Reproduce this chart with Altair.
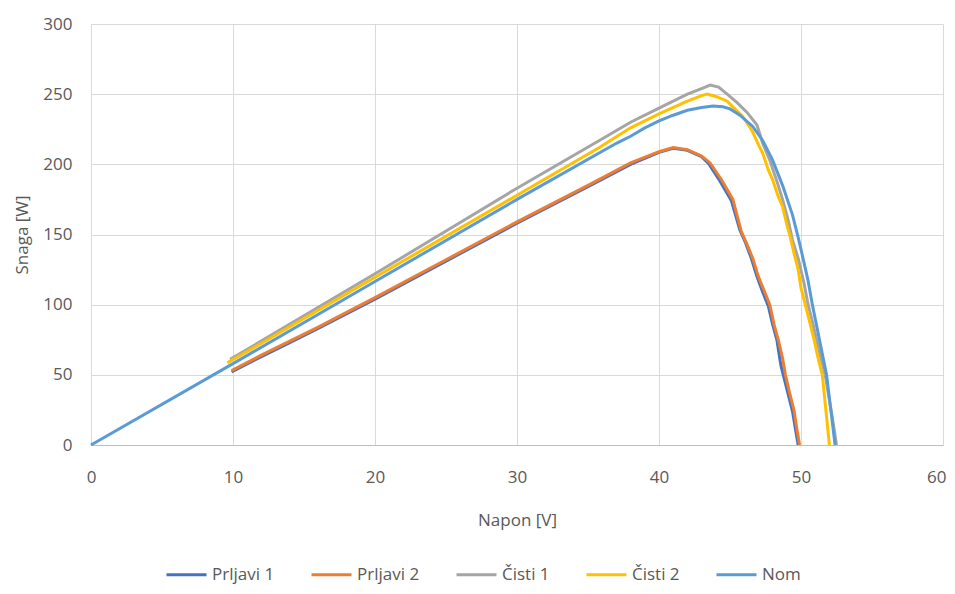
import altair as alt
import pandas as pd

series_names = ["Prljavi 1", "Prljavi 2", "Čisti 1", "Čisti 2", "Nom"]
series_colors = ["#4472C4", "#ED7D31", "#A5A5A5", "#FFC000", "#5B9BD5"]

prljavi1_v = [9.9, 12, 14, 16, 20, 25, 30, 35, 38, 40, 41, 42, 43, 43.5, 44.3, 45.1, 45.7, 46.1, 46.5, 46.9, 47.3, 47.7, 48.0, 48.3, 48.5, 48.6, 48.8, 49.1, 49.4, 49.6, 49.8]
prljavi1_w = [52, 63, 73, 83, 104, 131, 158, 184, 200, 208.5, 211.5, 210, 205.5, 200.5, 188, 174, 153, 144, 133, 120, 109, 99, 86, 75, 62, 56, 48, 36, 24, 12, 0]

prljavi2_v = [9.9, 12, 14, 16, 20, 25, 30, 35, 38, 40, 41, 42, 43, 43.6, 44.4, 45.2, 45.8, 46.2, 46.6, 47.0, 47.4, 47.8, 48.1, 48.4, 48.7, 48.9, 49.2, 49.5, 49.7, 49.9]
prljavi2_w = [53, 64, 74, 84, 105, 132, 159, 185, 201, 209, 212, 210.5, 206, 201, 189, 175, 152, 143, 133, 120, 110, 100, 86, 75, 62, 50, 37, 25, 12, 0]

cisti1_v = [9.8, 20, 30, 35.8, 38, 40, 42, 43, 43.6, 44.2, 44.8, 45.5, 46.2, 46.9, 47.3, 47.8, 48.3, 48.7, 49.1, 49.4, 49.8, 50.2, 50.5, 50.8, 51.1, 51.4, 51.7, 51.95, 52.2, 52.5]
cisti1_w = [61, 122, 183, 217, 230, 240, 250, 254, 256.5, 255, 250, 244, 237, 228, 215, 203, 188, 175, 160, 146, 133, 116, 100, 88, 75, 62, 50, 35, 20, 0]

cisti2_v = [9.6, 20, 30, 35.8, 38, 40, 42, 43, 43.4, 44.1, 44.8, 45.4, 45.9, 46.3, 46.6, 47.0, 47.3, 47.7, 48.0, 48.4, 48.7, 49.0, 49.2, 49.5, 49.8, 50.0, 50.3, 50.6, 50.9, 51.2, 51.5, 51.75, 52.0]
cisti2_w = [58.5, 119.5, 178, 212, 226, 236, 245, 249, 250, 248, 245, 239, 234, 228, 223, 214, 208, 196, 189, 177, 170, 157, 150, 137, 125, 112, 100, 88, 76, 62, 50, 25, 0]

nom_v = [0, 10, 20, 30, 37, 38, 39, 40, 41, 42, 43, 43.8, 44.5, 45, 45.7, 46.6, 47.3, 48, 48.7, 49.4, 49.8, 50.1, 50.5, 50.8, 51.3, 51.8, 52.1, 52.4]
nom_w = [0, 58, 116.5, 175, 215, 220, 226, 231, 235, 238.5, 240.5, 241.5, 241, 239.5, 235, 227, 217, 203, 185, 164, 148, 135, 117, 100, 75, 50, 25, 0]

x_ticks = [0, 10, 20, 30, 40, 50, 60]
y_ticks = [0, 50, 100, 150, 200, 250, 300]

rows = []
for name, vs, ws in zip(series_names,
                        [prljavi1_v, prljavi2_v, cisti1_v, cisti2_v, nom_v],
                        [prljavi1_w, prljavi2_w, cisti1_w, cisti2_w, nom_w]):
    for i, (v, w) in enumerate(zip(vs, ws)):
        rows.append({"series": name, "V": v, "W": w, "idx": i})
df = pd.DataFrame(rows)

FONT = "Open Sans"
GREY_TXT = "#595959"

color = alt.Color(
    "series:N",
    scale=alt.Scale(domain=series_names, range=series_colors),
    legend=alt.Legend(
        title=None, orient="none", direction="horizontal",
        legendX=74, legendY=529,
        symbolType="stroke", symbolSize=1600, symbolStrokeWidth=3,
        labelFontSize=17, labelColor=GREY_TXT, labelFont=FONT,
        columnPadding=30, labelOffset=4,
    ),
)

base = alt.Chart(df).mark_line(strokeWidth=3).encode(
    x=alt.X("V:Q", scale=alt.Scale(domain=[0, 60]),
            axis=alt.Axis(values=x_ticks, title="Napon [V]", grid=True,
                          ticks=False, domain=True, domainColor="#BFBFBF",
                          labelFlush=False,
                          labelAlign=alt.ExprRef(expr="datum.value == 60 ? 'right' : 'center'"),
                          labelOffset=alt.ExprRef(expr="datum.value == 60 ? 3 : 0"),
                          labelPadding=24, titlePadding=27)),
    y=alt.Y("W:Q", scale=alt.Scale(domain=[0, 300]),
            axis=alt.Axis(values=y_ticks, title="Snaga [W]", grid=True,
                          ticks=False, domain=False, labelFlush=False,
                          labelPadding=19, titlePadding=11)),
    color=color,
    order="idx:Q",
)

layers = [base.transform_filter(alt.datum.series == s) for s in series_names]

chart = alt.layer(*layers).properties(
    width=852, height=421,
    autosize=alt.AutoSizeParams(type="none"),
    padding={"left": 83, "top": 16, "right": 4, "bottom": 141},
).configure_view(stroke=None).configure_axis(
    gridColor="#D9D9D9", gridWidth=1,
    labelFont=FONT, labelFontSize=17, labelColor=GREY_TXT,
    titleFont=FONT, titleFontSize=17, titleColor=GREY_TXT, titleFontWeight="normal",
)

chart.save("out.html", embed_options={"renderer": "svg", "actions": False})
